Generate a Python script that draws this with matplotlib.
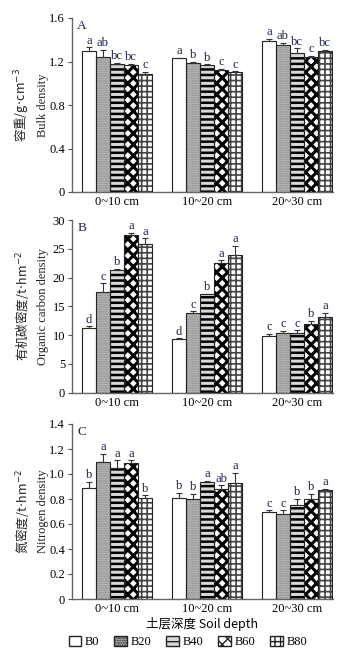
import matplotlib
matplotlib.use("Agg")
import matplotlib.pyplot as plt
import numpy as np
from matplotlib.patches import Patch

plt.rcParams['font.family'] = ['Liberation Serif', 'Noto Sans CJK SC']
plt.rcParams['hatch.linewidth'] = 1.0

groups = ["0~10 cm", "10~20 cm", "20~30 cm"]
treatments = ["B0", "B20", "B40", "B60", "B80"]

# Panel A: bulk density (g/cm3)
bd_mean = [[1.30, 1.24, 1.18, 1.17, 1.085],
           [1.23, 1.19, 1.17, 1.12, 1.10],
           [1.39, 1.35, 1.28, 1.24, 1.30]]
bd_err = [[0.03, 0.07, 0.01, 0.01, 0.02],
          [0.005, 0.01, 0.005, 0.01, 0.01],
          [0.02, 0.02, 0.04, 0.01, 0.01]]
bd_let = [["a", "ab", "bc", "bc", "c"],
          ["a", "b", "b", "c", "c"],
          ["a", "ab", "bc", "c", "bc"]]

# Panel B: organic carbon density (t/hm2)
oc_mean = [[11.2, 17.5, 21.3, 27.4, 25.8],
           [9.3, 13.8, 17.1, 22.6, 23.9],
           [9.9, 10.4, 10.4, 12.0, 13.1]]
oc_err = [[0.3, 1.5, 0.2, 0.4, 1.0],
          [0.1, 0.3, 0.1, 0.4, 1.6],
          [0.3, 0.3, 0.4, 0.5, 0.8]]
oc_let = [["d", "c", "b", "a", "a"],
          ["d", "c", "b", "a", "a"],
          ["c", "c", "c", "b", "a"]]

# Panel C: nitrogen density (t/hm2)
n_mean = [[0.89, 1.10, 1.05, 1.09, 0.81],
          [0.81, 0.80, 0.94, 0.88, 0.93],
          [0.70, 0.68, 0.75, 0.80, 0.87]]
n_err = [[0.05, 0.06, 0.06, 0.02, 0.02],
         [0.04, 0.04, 0.005, 0.03, 0.08],
         [0.01, 0.03, 0.05, 0.04, 0.01]]
n_let = [["b", "a", "a", "a", "b"],
         ["b", "b", "a", "ab", "a"],
         ["c", "c", "b", "b", "a"]]

styles = [dict(fc="white", hc="white", h=None, hlw=1.0),
          dict(fc="#bcbcbc", hc="#8a8a8a", h=".......", hlw=1.0),
          dict(fc="#d8d8d8", hc="black", h="---", hlw=1.8),
          dict(fc="white", hc="black", h="xxx", hlw=2.2),
          dict(fc="white", hc="#444444", h="+++", hlw=1.2)]

letter_color = "#1c2050"

fig = plt.figure(figsize=(3.58, 6.54), dpi=100)
W, H = 358, 654
def ax_rect(l, r, t, b):
    return [l / W, 1 - b / H, (r - l) / W, (b - t) / H]

panels = [
    dict(rect=ax_rect(72, 333, 18, 192), mean=bd_mean, err=bd_err, let=bd_let,
         ylim=(0, 1.6), ticks=[0, 0.4, 0.8, 1.2, 1.6], labs=["0", "0.4", "0.8", "1.2", "1.6"],
         zh="容重/g$\\!\\cdot\\!$cm$^{-3}$", en="Bulk density", tag="A", off=0.02),
    dict(rect=ax_rect(72, 333, 220, 392.5), mean=oc_mean, err=oc_err, let=oc_let,
         ylim=(0, 30), ticks=[0, 5, 10, 15, 20, 25, 30], labs=["0", "5", "10", "15", "20", "25", "30"],
         zh="有机碳密度/t$\\!\\cdot\\!$hm$^{-2}$", en="Organic carbon density", tag="B", off=0.35),
    dict(rect=ax_rect(72, 333, 424, 599), mean=n_mean, err=n_err, let=n_let,
         ylim=(0, 1.4), ticks=[0, 0.2, 0.4, 0.6, 0.8, 1.0, 1.2, 1.4],
         labs=["0", "0.2", "0.4", "0.6", "0.8", "1.0", "1.2", "1.4"],
         zh="氮密度/t$\\!\\cdot\\!$hm$^{-2}$", en="Nitrogen density", tag="C", off=0.015),
]

width = 0.1556
x = np.arange(len(groups))
for p in panels:
    ax = fig.add_axes(p["rect"])
    mean = np.array(p["mean"])
    err = np.array(p["err"])
    for j, st in enumerate(styles):
        xs = x + (j - 2) * width
        with plt.rc_context({'hatch.linewidth': st["hlw"]}):
            ax.bar(xs, mean[:, j], width, color=st["fc"], edgecolor=st["hc"],
                   hatch=st["h"], linewidth=0, zorder=2)
        ax.bar(xs, mean[:, j], width, fill=False, edgecolor="#222222",
               linewidth=0.8, zorder=3)
        ax.errorbar(xs, mean[:, j], yerr=[np.zeros(3), err[:, j]], fmt="none",
                    ecolor="#333333", elinewidth=0.8, capsize=2.5, capthick=0.8, zorder=4)
        for i in range(3):
            ax.text(xs[i], mean[i, j] + err[i, j] + p["off"] * 0.3, p["let"][i][j],
                    ha="center", va="bottom", fontsize=9, color=letter_color, zorder=5)
    ax.set_xlim(-0.5, 2.4)
    ax.set_ylim(*p["ylim"])
    ax.set_yticks(p["ticks"])
    ax.set_yticklabels(p["labs"], fontsize=9)
    ax.set_xticks(x)
    ax.set_xticklabels(groups, fontsize=9)
    ax.tick_params(axis="x", length=0, pad=3)
    ax.tick_params(axis="y", length=3, width=0.8, pad=2, direction="out", color="#555555")
    for s in ["top", "right"]:
        ax.spines[s].set_visible(False)
    for s in ["left", "bottom"]:
        ax.spines[s].set_color("#666666")
        ax.spines[s].set_linewidth(1.0)
    ax.text(0.02, 0.99, p["tag"], transform=ax.transAxes, fontsize=9.5, va="top", ha="left",
            color=letter_color)
    b = p["rect"]
    yc = b[1] + b[3] / 2
    fig.text(22 / W, yc, p["zh"], rotation=90, ha="center", va="center", fontsize=9,
             family=['Noto Sans CJK SC', 'DejaVu Sans'], color="#222222")
    fig.text(43 / W, yc, p["en"], rotation=90, ha="center", va="center", fontsize=9,
             color="#222222")

fig.text(202 / W, 1 - 624 / H, "土层深度 Soil depth", ha="center", va="center", fontsize=9,
         family=['Noto Sans CJK SC', 'DejaVu Sans'])

handles = []
for st in styles:
    with plt.rc_context({'hatch.linewidth': st["hlw"]}):
        handles.append(Patch(facecolor=st["fc"], edgecolor=st["hc"], hatch=st["h"]))
leg = fig.legend(handles, treatments, loc="center", bbox_to_anchor=(188 / W, 1 - 642 / H),
                 ncol=5, frameon=False, fontsize=9, handlelength=1.0, handleheight=0.8,
                 handletextpad=0.3, columnspacing=1.2)
for patch in leg.get_patches():
    patch.set_edgecolor("#222222")

fig.savefig("out.png", dpi=100)
